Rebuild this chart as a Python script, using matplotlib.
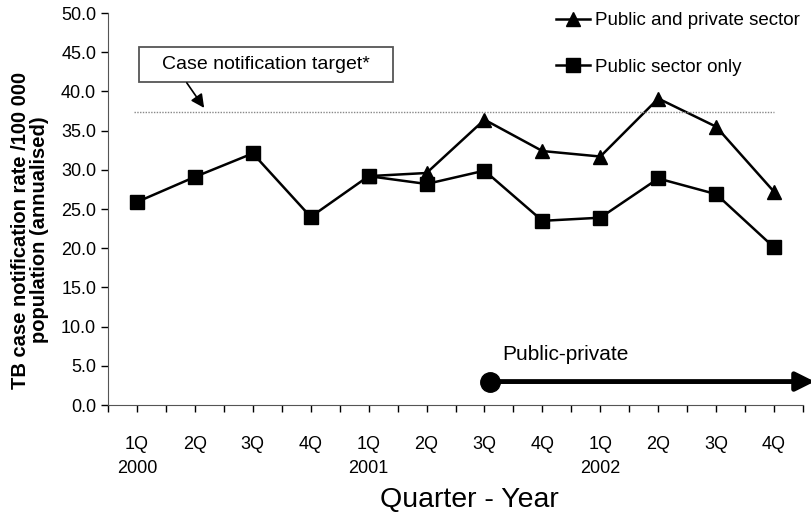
import matplotlib
matplotlib.use("Agg")
import matplotlib.pyplot as plt
from matplotlib import font_manager
from matplotlib.patches import Rectangle

quarters = ["1Q", "2Q", "3Q", "4Q", "1Q", "2Q", "3Q", "4Q", "1Q", "2Q", "3Q", "4Q"]
years = {0: "2000", 4: "2001", 8: "2002"}
public_private = [None, None, None, None, None, 29.6, 36.4, 32.4, 31.7, 39.1, 35.5, 27.2]
public_only = [25.9, 29.1, 32.1, 24.0, 29.2, 28.2, 29.9, 23.5, 23.9, 28.9, 26.9, 20.1]
target = 37.4
yticks = [0, 5, 10, 15, 20, 25, 30, 35, 40, 45, 50]


def pick_font():
    names = {f.name for f in font_manager.fontManager.ttflist}
    for n in ["Liberation Sans Narrow", "Liberation Sans", "DejaVu Sans"]:
        if n in names:
            return n
    return "DejaVu Sans"


def main():
    font = pick_font()
    plt.rcParams["font.family"] = [font, "DejaVu Sans"]

    fig = plt.figure(figsize=(8.12, 5.22), dpi=100)
    ax = fig.add_axes([0.133, 0.224, 0.856, 0.751])

    x = list(range(len(quarters)))
    xs_pp = [i for i, v in zip(x, public_private) if v is not None]
    ys_pp = [v for v in public_private if v is not None]
    # combined series branches off the public-only line at 1Q 2001
    xs_pp = [4] + xs_pp
    ys_pp = [public_only[4]] + ys_pp

    ax.plot(xs_pp, ys_pp, color="black", lw=1.8, marker="^", ms=10,
            label="Public and private sector")
    ax.plot(x, public_only, color="black", lw=1.8, marker="s", ms=9.5,
            label="Public sector only")

    # target line + boxed note
    ax.plot([-0.05, 11.0], [target, target], color="#888888", lw=1.0,
            linestyle=(0, (1, 1)))
    ax.add_patch(Rectangle((0.03, 41.2), 4.39, 4.5, fc="white", ec="#555555",
                           lw=1.3, zorder=3))
    ax.text(2.23, 43.45, "Case notification target*", fontsize=14,
            ha="center", va="center", zorder=4)
    ax.annotate("", xy=(1.16, 37.9), xytext=(0.86, 41.1),
                arrowprops=dict(arrowstyle="-|>", color="black", lw=1.2,
                                mutation_scale=20, shrinkA=0, shrinkB=0))

    # public-private intervention arrow
    ax.plot([6.1], [3.0], marker="o", color="black", ms=14, clip_on=False)
    ax.annotate("", xy=(11.7, 3.0), xytext=(6.1, 3.0),
                arrowprops=dict(arrowstyle="-|>", color="black", lw=3.5,
                                mutation_scale=28, shrinkA=0, shrinkB=0),
                annotation_clip=False)
    ax.text(6.3, 6.4, "Public-private", fontsize=15, ha="left", va="center")

    ax.set_xlim(-0.5, 11.5)
    ax.set_ylim(0, 50)
    ax.set_yticks(yticks)
    ax.set_yticklabels([f"{v:.1f}" for v in yticks], fontsize=13)

    ax.set_xticks(x)
    labels = []
    for i, q in enumerate(quarters):
        labels.append(q + "\n" + years[i] if i in years else q)
    ax.set_xticklabels(labels, fontsize=13, linespacing=1.55)
    ax.set_xticks([i - 0.5 for i in range(len(quarters) + 1)], minor=True)
    ax.tick_params(axis="x", which="both", length=5, width=1, pad=17, direction="out")
    ax.tick_params(axis="y", length=5, width=1, direction="out")

    for s in ["top", "right"]:
        ax.spines[s].set_visible(False)
    ax.spines["left"].set_color("#555555")
    ax.spines["bottom"].set_color("#555555")

    fig.text(0.578, 1 - 500 / 522, "Quarter - Year", fontsize=20.5,
             ha="center", va="center")
    fig.text(0.037, 1 - 230 / 522,
             "TB case notification rate /100 000\npopulation (annualised)",
             fontsize=14.5, fontweight="bold", linespacing=0.95,
             rotation=90, ha="center", va="center")

    ax.legend(loc="upper left", bbox_to_anchor=(0.62, 1.045), frameon=False,
              fontsize=13.5, handlelength=1.8, handletextpad=0.3, labelspacing=1.55)

    fig.savefig("out.png", dpi=100)


if __name__ == "__main__":
    main()
